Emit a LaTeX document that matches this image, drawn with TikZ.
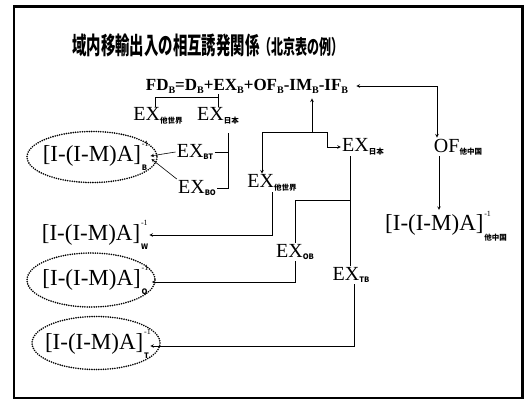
\documentclass[tikz,border=0pt]{standalone}
\usepackage{graphicx}
\usepackage{fontspec}
\setmainfont{Liberation Serif}
\newfontfamily\cjk{Noto Sans CJK JP}
\usepackage{tikz}
\usetikzlibrary{positioning}
\usetikzlibrary{arrows}
\newcommand{\tsub}[1]{\raisebox{-0.12em}{\cjk\bfseries\fontsize{7.5}{7.5}\selectfont #1}}
\newcommand{\fsub}[1]{\raisebox{-0.18em}{\fontsize{10}{10}\selectfont #1}}
\newcommand{\leon}[1]{[I-(I-M)A]\kern0.8pt\rlap{\raisebox{0.62em}{\fontsize{8}{8}\selectfont -1}}\raisebox{-0.4em}{\cjk\bfseries\fontsize{7.5}{7.5}\selectfont #1}}

\begin{document}
\begin{tikzpicture}[
	x=1pt, y=-1pt,
	term/.style={
		inner sep=1pt,
		font=\fontsize{20}{20}\selectfont,
	},
	inv/.style={
		inner sep=1pt,
		font=\fontsize{23}{23}\selectfont,
	},
	dotring/.style={
		line width=1.8pt,
		dash pattern=on 0pt off 2.3pt,
		line cap=round,
	},
	line width=0.6pt,
	>=stealth,
]
\useasboundingbox (0,0) rectangle (524,402);
\draw[line width=2.6pt] (14,6.5) rectangle (522.5,398);

\node [anchor=west, inner sep=0] (title) at (72,45) {\scalebox{0.6}[1]{\cjk\bfseries\fontsize{24}{24}\selectfont 域内移輸出入の相互誘発関係\fontsize{20}{20}\selectfont（北京表の例）}};
\node [inner sep=1pt, font=\fontsize{17}{17}\selectfont\bfseries] (fd) at (247,86) {FD\fsub{B}=D\fsub{B}+EX\fsub{B}+OF\fsub{B}-IM\fsub{B}-IF\fsub{B}};

% first export split
\node [term] (exw1) at (158,116) {EX\tsub{他世界}};
\node [term] (exj1) at (218,116) {EX\tsub{日本}};
\node [term] (exbt) at (195,152) {EX\tsub{BT}};
\node [term, below=18pt of exbt, xshift=2pt] (exbo) {EX\tsub{BO}};
\node [inv] (ellB) at (95,156) {\leon{B}};
\draw[dotring] (ellB) ++(-3,1) ellipse [x radius=65, y radius=25.5];

% feedback branch
\node [term] (exw2) at (272,183) {EX\tsub{他世界}};
\node [term] (exj2) at (363,147) {EX\tsub{日本}};
\node [term] (exob) at (295,252) {EX\tsub{OB}};
\node [term] (extb) at (351,275) {EX\tsub{TB}};
\node [inv] (leonw) at (95,235) {\leon{W}};
\node [inv] (ellO) at (95,280) {\leon{O}};
\draw[dotring] (ellO) ++(-4,0) ellipse [x radius=64, y radius=27];
\node [inv] (ellT) at (97,344) {\leon{T}};
\draw[dotring] (ellT) ++(-1,-1) ellipse [x radius=64, y radius=26.5];

% other China
\node [term] (ofc) at (458,147) {OF\tsub{他中国}};
\node [inv] (leonc) at (446,226) {\leon{他中国}};

\coordinate (exsplit) at (218,97);
\coordinate (btsplit) at (228,133);
\coordinate (fdjoin) at (312,132);
\coordinate (ofcorner) at (437,86);
\coordinate (obsplit) at (350,200);

\draw (fd.south -| exsplit) -- (exj1.north -| exsplit);
\draw (exsplit) -| ([xshift=-3pt]exw1.north);
\draw (btsplit) |- (exbo.east);
\draw (exbt.east) -- (exbt.east -| btsplit);
\draw[->] (exbt.west) -- ([xshift=2pt]ellB.east);
\draw[->] (exbo.north west) -- ([xshift=3pt,yshift=-3pt]ellB.east);

\draw[<->] ([xshift=7pt]fd.east) -- (ofcorner) -- (ofcorner |- ofc.north);
\draw[->] (fdjoin) -- ([yshift=-4pt]fdjoin |- fd.south);
\draw[->] (fdjoin) -| ([xshift=-10pt]exw2.north);
\draw[->] (fdjoin) -- ++(15,0) |- (exj2.west);
\draw[->] (exw2.south) |- (leonw.east);

\draw ([xshift=-13pt]exj2.south) -- ([xshift=-13pt]exj2.south |- extb.north);
\draw (obsplit) -| (exob.north);
\draw[->] (exob.south) |- ([xshift=3pt,yshift=-2pt]ellO.east);
\draw[->] ([xshift=3pt]extb.south) |- ([yshift=-2pt]ellT.east);
\draw[->] ([xshift=-19pt]ofc.south) -- ([xshift=-19pt]ofc.south |- leonc.north);
\end{tikzpicture}
\end{document}
